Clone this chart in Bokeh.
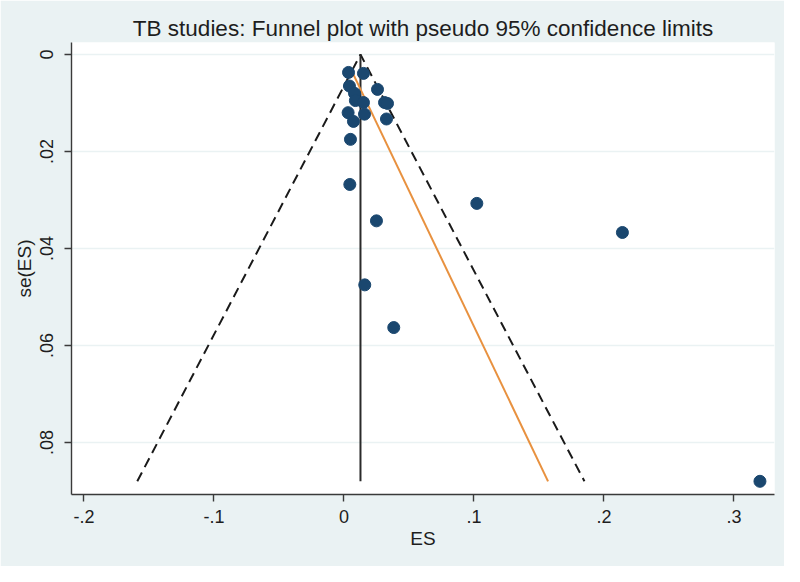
from bokeh.plotting import figure
from bokeh.models import Range1d, FixedTicker
from bokeh.embed import file_html
from bokeh.resources import INLINE

# ---- data ----
es = [0.0035, 0.015, 0.0042, 0.0258, 0.0081, 0.0088, 0.015, 0.0312, 0.0335, 0.0032,
      0.0158, 0.0073, 0.0327, 0.005, 0.0045, 0.1022, 0.025, 0.2142, 0.016, 0.0383, 0.320]
se = [0.0037, 0.0039, 0.0065, 0.0072, 0.008, 0.0095, 0.0099, 0.0099, 0.0101, 0.012,
      0.0123, 0.0138, 0.0133, 0.0175, 0.0268, 0.0307, 0.0343, 0.0367, 0.0475, 0.0563, 0.088]

pooled_x = [0.0127, 0.0127]
pooled_se = [0.0, 0.088]
funnel_x = [-0.159, 0.0127, 0.185]
funnel_se = [0.088, 0.0, 0.088]
egger_x = [0.0065, 0.157]
egger_se = [0.0037, 0.088]

x_ticks = [-0.2, -0.1, 0, 0.1, 0.2, 0.3]
x_labels = ["-.2", "-.1", "0", ".1", ".2", ".3"]
y_ticks = [0, 0.02, 0.04, 0.06, 0.08]
y_labels = ["0", ".02", ".04", ".06", ".08"]

BG = "#eaf2f3"
FONT = "Liberation Sans"

p = figure(frame_width=703, frame_height=452,
           min_border_left=71, min_border_right=10, min_border_top=42, min_border_bottom=72,
           x_range=Range1d(-0.2096, 0.3312), y_range=Range1d(0.09072, -0.00247),
           output_backend="svg", toolbar_location=None,
           background_fill_color="white", border_fill_color=BG,
           title="TB studies: Funnel plot with pseudo 95% confidence limits")
p.outline_line_color = None

p.title.align = "center"
p.title.text_font = FONT
p.title.text_font_size = "22.5px"
p.title.text_font_style = "normal"
p.title.text_color = "#1e1e1e"
p.title.standoff = 4

p.xgrid.visible = False
p.ygrid.grid_line_color = BG
p.ygrid.grid_line_width = 1.5

for ax in (p.xaxis[0], p.yaxis[0]):
    ax.axis_line_color = "#3a3a3a"
    ax.axis_line_width = 1.4
    ax.major_tick_line_color = "#3a3a3a"
    ax.major_tick_line_width = 1.4
    ax.major_tick_out = 7
    ax.major_tick_in = 0
    ax.minor_tick_line_color = None
    ax.major_label_text_font = FONT
    ax.major_label_text_font_size = "18px"
    ax.major_label_text_color = "#1e1e1e"
    ax.axis_label_text_font = FONT
    ax.axis_label_text_font_size = "19px"
    ax.axis_label_text_font_style = "normal"
    ax.axis_label_text_color = "#1e1e1e"

p.xaxis.ticker = FixedTicker(ticks=x_ticks)
p.xaxis.major_label_overrides = {t: l for t, l in zip(x_ticks, x_labels)}
p.xaxis.axis_label = "ES"
p.xaxis.major_label_standoff = 8
p.xaxis.axis_label_standoff = 2

p.yaxis.ticker = FixedTicker(ticks=y_ticks)
p.yaxis.major_label_overrides = {t: l for t, l in zip(y_ticks, y_labels)}
p.yaxis.major_label_orientation = "vertical"
p.yaxis.axis_label = "se(ES)"
p.yaxis.major_label_standoff = 11
p.yaxis.axis_label_standoff = 3

p.line(funnel_x, funnel_se, line_color="#1a1a1a", line_width=2, line_dash="10 6")
p.line(pooled_x, pooled_se, line_color="#2a2a2a", line_width=2)
p.line(egger_x, egger_se, line_color="#e8913f", line_width=2)
p.scatter(es, se, size=12, fill_color="#1a476f", line_color="#1a476f")

open("out.html", "w").write(file_html(p, INLINE))
